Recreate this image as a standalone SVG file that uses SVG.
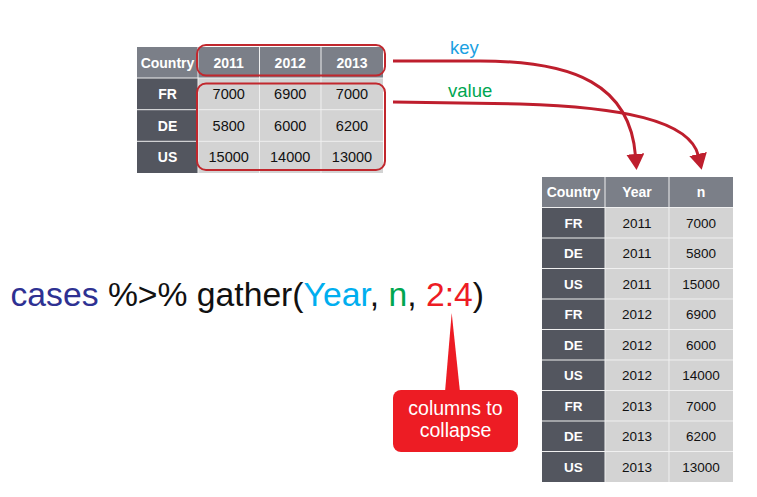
<svg xmlns="http://www.w3.org/2000/svg" width="757" height="497" viewBox="0 0 757 497">
<style>
  .hdr{fill:#7b7f88}
  .dark{fill:#53565f}
  .cell{fill:#d3d3d3}
  .grid{stroke:#f0f0f0;stroke-width:1;fill:none}
  .th{font-family:"Liberation Sans",Arial,sans-serif;font-weight:bold;fill:#ffffff;text-anchor:middle}
  .td{font-family:"Liberation Sans",Arial,sans-serif;fill:#111111;text-anchor:middle}
  .hl{fill:none;stroke:#c1272d;stroke-width:2}
  .conn{fill:none;stroke:#be1e2d;stroke-width:3}
  .lbl{font-family:"Liberation Sans",Arial,sans-serif;font-size:18.5px}
  .code{font-family:"Liberation Sans",Arial,sans-serif;font-size:33.7px}
</style>
<defs>
  <marker id="ah" markerUnits="userSpaceOnUse" markerWidth="16" markerHeight="18" viewBox="0 0 16 18" refX="2" refY="9" orient="auto">
    <path d="M0,0 L16,9 L0,18 z" fill="#be1e2d"/>
  </marker>
</defs>

<g id="wide-table">
  <rect class="hdr" x="137" y="47" width="246" height="31"/>
  <rect class="dark" x="137" y="78" width="61" height="95"/>
  <rect class="cell" x="198" y="78" width="185" height="95"/>
  <path class="grid" d="M198,47 V173 M259.5,47 V173 M321,47 V173 M137,78 H383 M137,109.7 H383 M137,141.3 H383"/>
  <g class="th" font-size="14">
    <text x="167.5" y="67.5">Country</text>
    <text x="228.7" y="67.5">2011</text>
    <text x="290.2" y="67.5">2012</text>
    <text x="352" y="67.5">2013</text>
    <text x="167.5" y="99">FR</text>
    <text x="167.5" y="130.5">DE</text>
    <text x="167.5" y="162">US</text>
  </g>
  <g class="td" font-size="14.5">
    <text x="228.7" y="99">7000</text><text x="290.2" y="99">6900</text><text x="352" y="99">7000</text>
    <text x="228.7" y="130.5">5800</text><text x="290.2" y="130.5">6000</text><text x="352" y="130.5">6200</text>
    <text x="228.7" y="162">15000</text><text x="290.2" y="162">14000</text><text x="352" y="162">13000</text>
  </g>
  <rect class="hl" x="197" y="45" width="188" height="30.5" rx="9"/>
  <rect class="hl" x="197" y="83.5" width="188" height="86.5" rx="9"/>
</g>

<g id="long-table">
  <rect class="hdr" x="542" y="177" width="191" height="30.5"/>
  <rect class="dark" x="542" y="207.5" width="63" height="274.5"/>
  <rect class="cell" x="605" y="207.5" width="128" height="274.5"/>
  <path class="grid" d="M605,177 V482 M669,177 V482 M542,207.5 H733 M542,238 H733 M542,268.5 H733 M542,299 H733 M542,329.5 H733 M542,360 H733 M542,390.5 H733 M542,421 H733 M542,451.5 H733"/>
  <g class="th" font-size="14">
    <text x="573.5" y="197">Country</text>
    <text x="637" y="197">Year</text>
    <text x="701" y="197">n</text>
  </g>
  <g class="th" font-size="13.5">
    <text x="573.5" y="227.5">FR</text>
    <text x="573.5" y="258">DE</text>
    <text x="573.5" y="288.5">US</text>
    <text x="573.5" y="319">FR</text>
    <text x="573.5" y="349.5">DE</text>
    <text x="573.5" y="380">US</text>
    <text x="573.5" y="410.5">FR</text>
    <text x="573.5" y="441">DE</text>
    <text x="573.5" y="471.5">US</text>
  </g>
  <g class="td" font-size="13.5">
    <text x="637" y="227.5">2011</text><text x="701" y="227.5">7000</text>
    <text x="637" y="258">2011</text><text x="701" y="258">5800</text>
    <text x="637" y="288.5">2011</text><text x="701" y="288.5">15000</text>
    <text x="637" y="319">2012</text><text x="701" y="319">6900</text>
    <text x="637" y="349.5">2012</text><text x="701" y="349.5">6000</text>
    <text x="637" y="380">2012</text><text x="701" y="380">14000</text>
    <text x="637" y="410.5">2013</text><text x="701" y="410.5">7000</text>
    <text x="637" y="441">2013</text><text x="701" y="441">6200</text>
    <text x="637" y="471.5">2013</text><text x="701" y="471.5">13000</text>
  </g>
</g>

<g id="connectors">
  <path class="conn" d="M393,61 L480,61 C575,61 630,85 635.5,156" marker-end="url(#ah)"/>
  <path class="conn" d="M393,102 L520,104 C620,107 690,120 698.5,156" marker-end="url(#ah)"/>
  <text class="lbl" x="450" y="54" fill="#1ba1e2">key</text>
  <text class="lbl" x="448" y="97" fill="#00a651">value</text>
</g>

<g id="code">
  <text class="code" x="10.5" y="306"><tspan fill="#2e3192">cases</tspan><tspan fill="#111111"> %&gt;% gather(</tspan><tspan fill="#00aeef">Year</tspan><tspan fill="#111111">, </tspan><tspan fill="#00a651">n</tspan><tspan fill="#111111">, </tspan><tspan fill="#ed1c24">2:4</tspan><tspan fill="#111111">)</tspan></text>
</g>

<g id="callout">
  <polygon points="445,392 451.7,313 460,392" fill="#ed1c24"/>
  <rect x="393" y="390" width="125" height="62" rx="8" fill="#ed1c24"/>
  <text x="455.5" y="415" font-family="Liberation Sans, Arial, sans-serif" font-size="19.5" fill="#ffffff" text-anchor="middle">columns to</text>
  <text x="455.5" y="437" font-family="Liberation Sans, Arial, sans-serif" font-size="19.5" fill="#ffffff" text-anchor="middle">collapse</text>
</g>
</svg>
